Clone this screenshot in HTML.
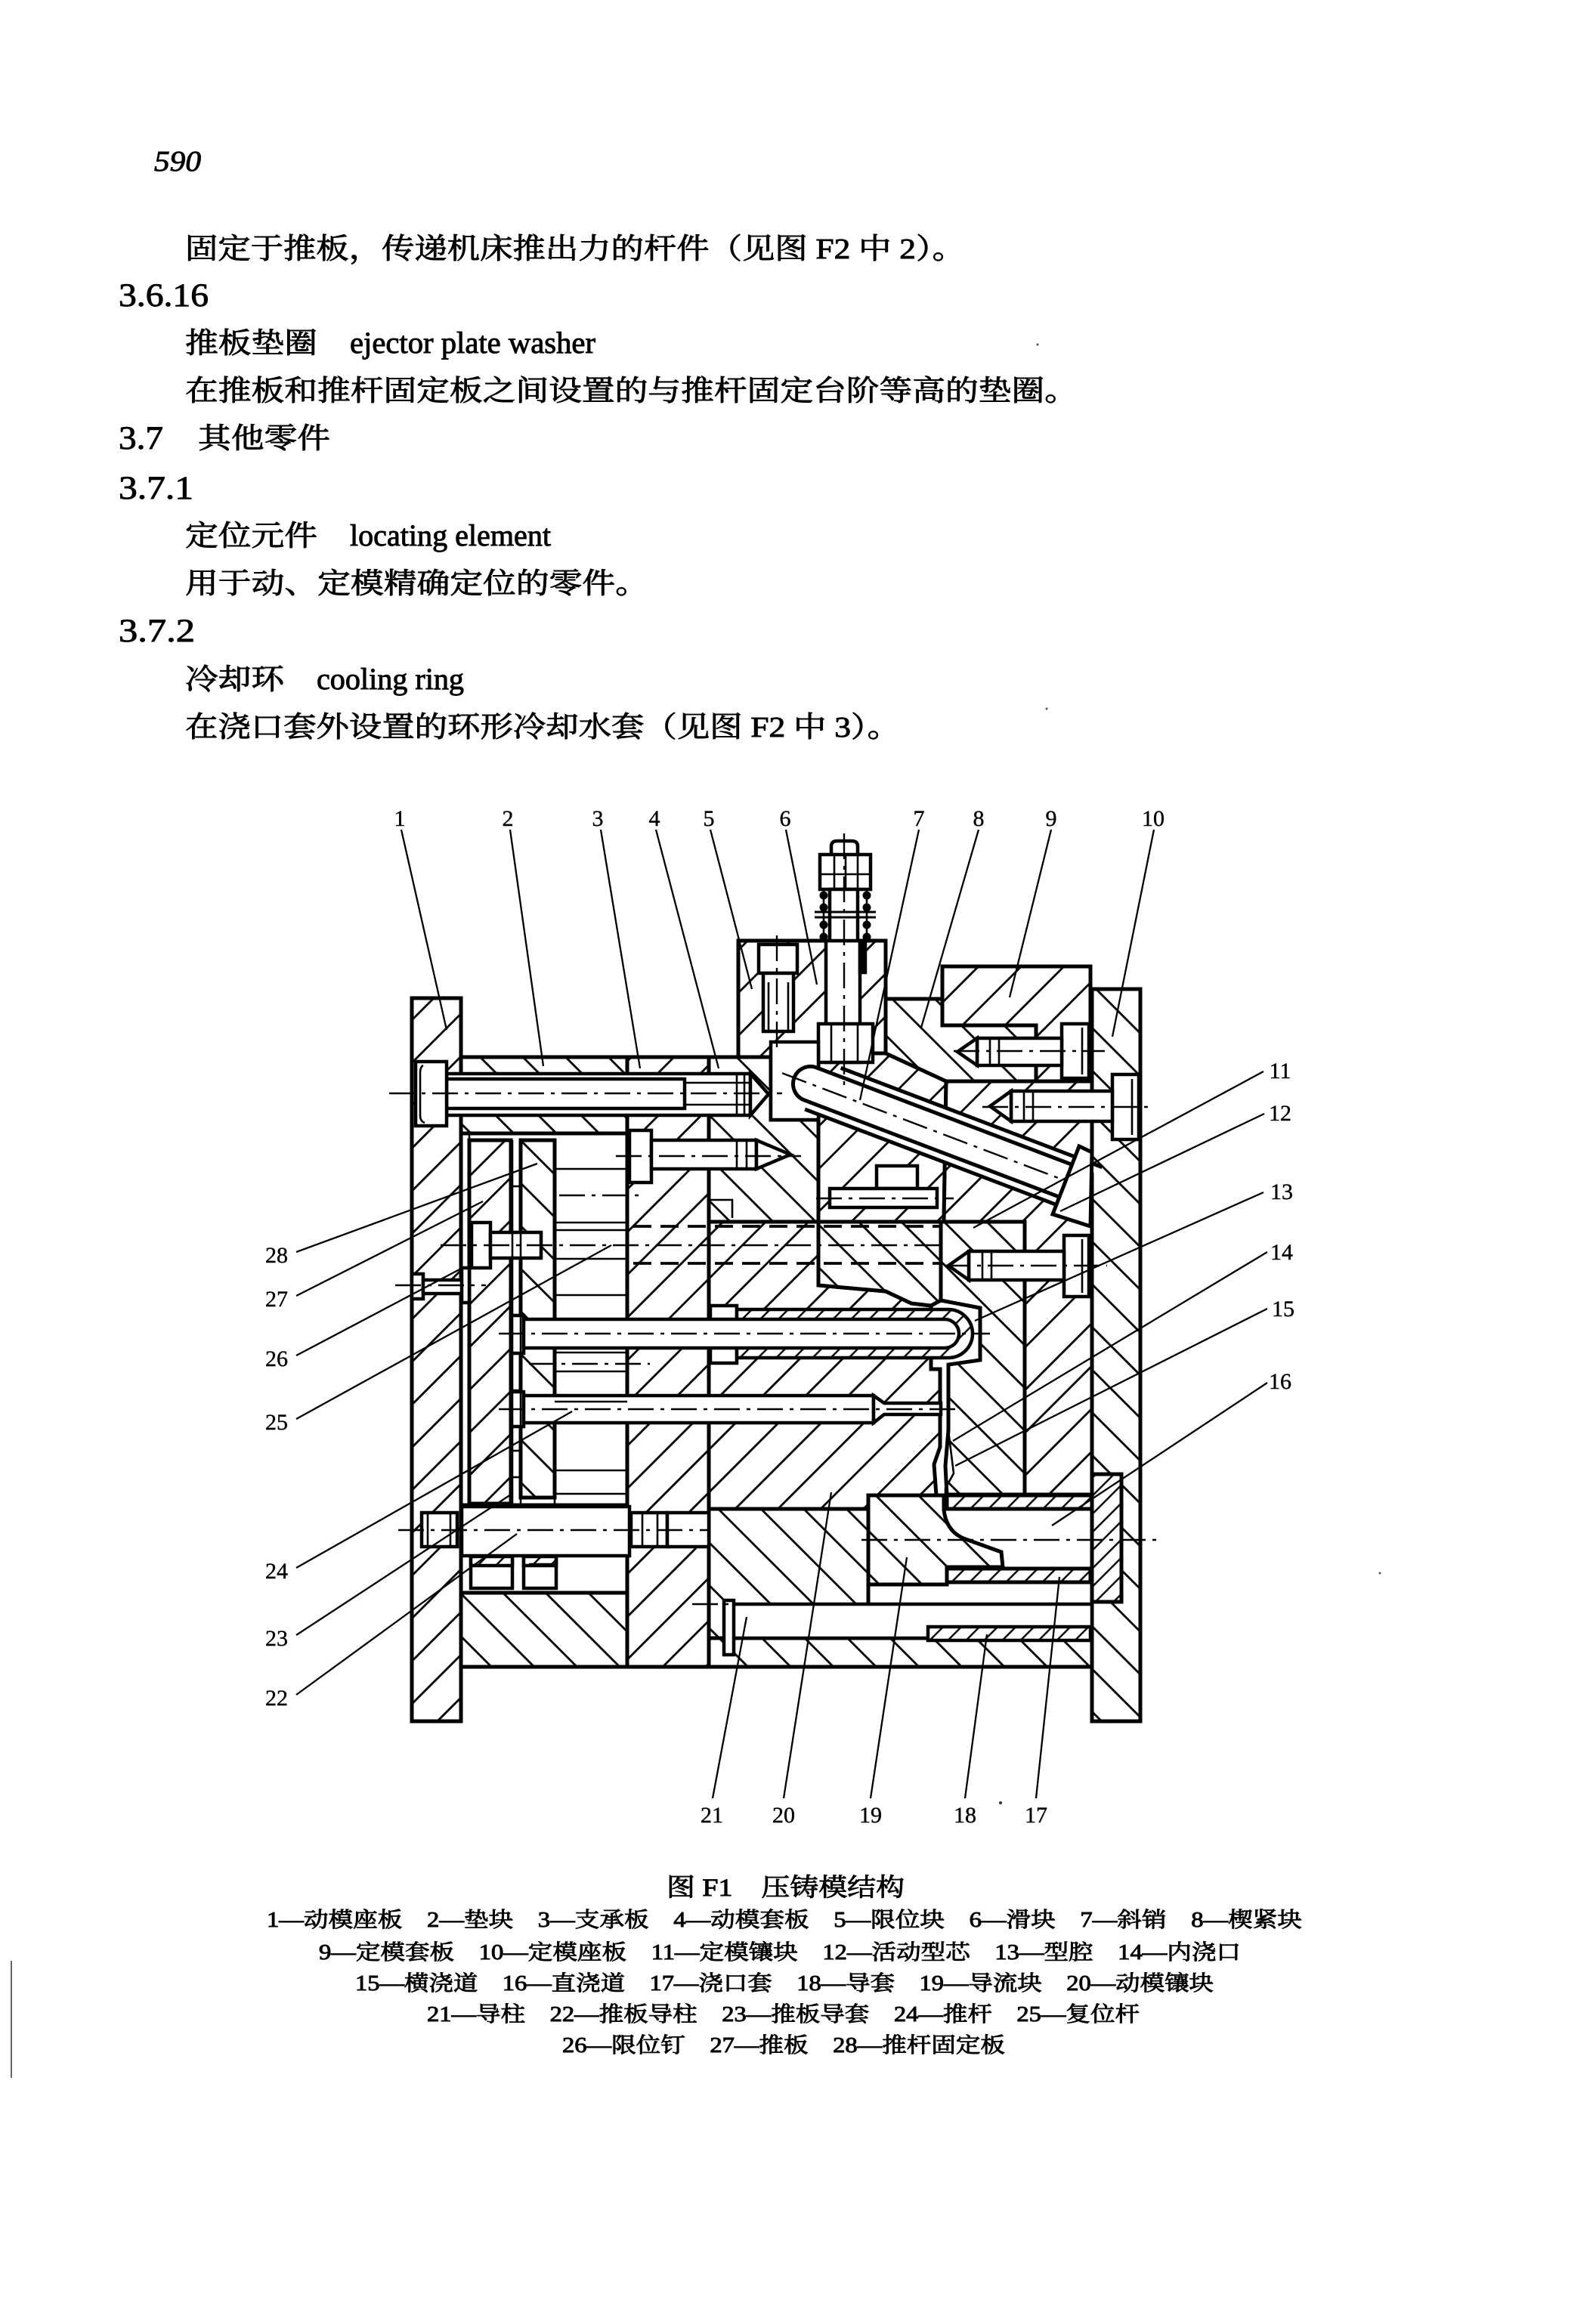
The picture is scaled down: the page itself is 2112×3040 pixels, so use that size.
<!DOCTYPE html>
<html><head><meta charset="utf-8">
<style>
html,body{margin:0;padding:0;background:#fff}
svg{display:block}
.tx{font-family:"Liberation Serif","Noto Serif CJK SC",serif;fill:#000}
.lb{font-family:"Liberation Serif",serif;font-size:30px;fill:#000;text-anchor:middle;stroke:#000;stroke-width:0.4}
.cl{stroke:#000;stroke-width:2.4;stroke-dasharray:34 9 5 9;fill:none}
.ld{stroke:#000;stroke-width:2.3;fill:none}
.th{stroke:#000;stroke-width:2.6;fill:none}
.dh{stroke:#000;stroke-width:3.8;stroke-dasharray:24 12;fill:none}
</style></head>
<body>
<svg xmlns="http://www.w3.org/2000/svg" width="2112" height="3040" viewBox="0 0 2112 3040">
<defs>
<pattern id="hA" patternUnits="userSpaceOnUse" width="40" height="40" patternTransform="rotate(45)"><rect width="40" height="40" fill="#fff"/><line x1="20" y1="-5" x2="20" y2="45" stroke="#000" stroke-width="2.8"/></pattern>
<pattern id="hB" patternUnits="userSpaceOnUse" width="40" height="40" patternTransform="rotate(-45)"><rect width="40" height="40" fill="#fff"/><line x1="20" y1="-5" x2="20" y2="45" stroke="#000" stroke-width="2.8"/></pattern>
<pattern id="hAd" patternUnits="userSpaceOnUse" width="17" height="17" patternTransform="rotate(45)"><rect width="17" height="17" fill="#fff"/><line x1="8" y1="-2" x2="8" y2="19" stroke="#000" stroke-width="2.4"/></pattern>
</defs>
<rect width="2112" height="3040" fill="#fff"/>

<!-- ============ BODY TEXT ============ -->
<g class="tx" stroke="#000" stroke-width="0.9">
<text x="204" y="226" font-size="38" font-style="italic" textLength="62" lengthAdjust="spacingAndGlyphs">590</text>
<text x="245" y="342" font-size="38" textLength="1032" lengthAdjust="spacingAndGlyphs">固定于推板，传递机床推出力的杆件（见图 F2 中 2）。</text>
<text x="157" y="405" font-size="43" textLength="119" lengthAdjust="spacingAndGlyphs">3.6.16</text>
<text x="245" y="467" font-size="38" textLength="175" lengthAdjust="spacingAndGlyphs">推板垫圈</text>
<text x="463" y="467" font-size="40" textLength="325" lengthAdjust="spacingAndGlyphs">ejector plate washer</text>
<text x="245" y="530" font-size="38" textLength="1181" lengthAdjust="spacingAndGlyphs">在推板和推杆固定板之间设置的与推杆固定台阶等高的垫圈。</text>
<text x="157" y="594" font-size="43" textLength="59" lengthAdjust="spacingAndGlyphs">3.7</text>
<text x="262" y="593" font-size="38" textLength="175" lengthAdjust="spacingAndGlyphs">其他零件</text>
<text x="157" y="660" font-size="43" textLength="99" lengthAdjust="spacingAndGlyphs">3.7.1</text>
<text x="245" y="722" font-size="38" textLength="175" lengthAdjust="spacingAndGlyphs">定位元件</text>
<text x="463" y="722" font-size="40" textLength="266" lengthAdjust="spacingAndGlyphs">locating element</text>
<text x="245" y="785" font-size="38" textLength="613" lengthAdjust="spacingAndGlyphs">用于动、定模精确定位的零件。</text>
<text x="157" y="849" font-size="43" textLength="101" lengthAdjust="spacingAndGlyphs">3.7.2</text>
<text x="245" y="912" font-size="38" textLength="131" lengthAdjust="spacingAndGlyphs">冷却环</text>
<text x="419" y="912" font-size="40" textLength="195" lengthAdjust="spacingAndGlyphs">cooling ring</text>
<text x="245" y="975" font-size="38" textLength="946" lengthAdjust="spacingAndGlyphs">在浇口套外设置的环形冷却水套（见图 F2 中 3）。</text>
</g>

<!-- small specks -->
<circle cx="1373" cy="456" r="1.5" fill="#555"/>
<circle cx="1385" cy="938" r="1.5" fill="#555"/>
<circle cx="1324" cy="2386" r="2" fill="#333"/>
<circle cx="1826" cy="2082" r="1.5" fill="#555"/>
<line x1="15" y1="2595" x2="15" y2="2750" stroke="#666" stroke-width="2"/>

<!-- ============ DIAGRAM: hatched regions ============ -->
<g stroke="#000" stroke-width="5" stroke-linejoin="miter">
<rect x="545" y="1321" width="65" height="957" fill="url(#hA)"/>
<rect x="1445" y="1309" width="64" height="969" fill="url(#hB)"/>
<rect x="610" y="1399" width="220" height="101" fill="url(#hB)"/>
<rect x="830" y="1399" width="108" height="807" fill="url(#hA)"/>
<polygon points="938,1399 1020,1399 1020,1482 1083,1482 1083,1617 938,1617" fill="url(#hB)"/>
<rect x="977" y="1245" width="195" height="154" fill="url(#hA)"/>
<polygon points="1083,1394 1172,1394 1252,1431 1249,1617 1083,1617" fill="url(#hA)"/>
<polygon points="1172,1322 1247,1322 1247,1357 1371,1357 1371,1431 1252,1431 1172,1394" fill="url(#hB)"/>
<polygon points="1247,1279 1443,1279 1443,1431 1371,1431 1371,1357 1247,1357" fill="url(#hA)"/>
<polygon points="1252,1431 1445,1431 1445,1978 1356,1978 1356,1617 1249,1617" fill="url(#hA)"/>
<polygon points="1249,1617 1356,1617 1356,1978 1253,1978 1251,1940 1255,1893 1255,1806 1297,1800 1297,1731 1245,1721 1245,1617" fill="url(#hB)"/>
<polygon points="938,1617 1083,1617 1083,1701 1116,1704 1172,1709 1206,1725 1232,1728 1232,1812 1244,1812 1244,1915 1236,1938 1239,1979 1149,1979 1149,1997 938,1997" fill="url(#hA)"/>
<polygon points="1083,1617 1245,1617 1245,1721 1232,1728 1206,1725 1172,1709 1116,1704 1083,1701" fill="url(#hB)"/>
<rect x="938" y="1997" width="211" height="171" fill="url(#hB)"/>
<rect x="938" y="2168" width="507" height="38" fill="url(#hB)"/>
<rect x="610" y="2108" width="220" height="98" fill="url(#hB)"/>
<rect x="621" y="1509" width="55" height="481" fill="url(#hA)"/>
<rect x="689" y="1509" width="45" height="473" fill="url(#hB)"/>
<path d="M1149,1979 H1249 V1998 Q1252,2026 1275,2036 L1325,2054 L1327,2074 H1253 V2097 H1149 Z" fill="url(#hB)"/>
<rect x="1253" y="1979" width="192" height="18" fill="url(#hAd)"/>
<rect x="1445" y="1951" width="39" height="169" fill="url(#hAd)"/>
<rect x="1253" y="2076" width="190" height="18" fill="url(#hAd)"/>
<line x1="610" y1="1992" x2="830" y2="1992"/>
</g>

<!-- ============ white parts / bolts ============ -->
<g stroke="#000" stroke-width="4.5" fill="#fff">
<rect x="591" y="1421" width="402" height="55"/>
<polygon points="993,1421 1017,1448 993,1476"/>
<rect x="550" y="1405" width="41" height="85"/>
<path d="M591,1428 H906 V1467 H591" fill="none"/>
<rect x="833" y="1496" width="29" height="69"/>
<rect x="862" y="1509" width="139" height="38"/>
<polygon points="1001,1509 1046,1528 1001,1547"/>
<rect x="624" y="1618" width="25" height="60"/>
<rect x="649" y="1631" width="67" height="34"/>
<rect x="545" y="1686" width="15" height="33"/>
<rect x="560" y="1694" width="52" height="18"/>
<rect x="611" y="1678" width="10" height="46"/>
<rect x="611" y="1994" width="222" height="65"/>
<rect x="558" y="2002" width="47" height="45"/>
<rect x="835" y="2002" width="48" height="45"/>
<rect x="883" y="2002" width="55" height="45"/>
<rect x="623" y="2060" width="55" height="42"/>
<rect x="693" y="2060" width="43" height="42"/>
<rect x="623" y="2060" width="55" height="12" fill="url(#hAd)"/>
<rect x="693" y="2060" width="43" height="12" fill="url(#hAd)"/>
<rect x="940" y="1728" width="35" height="76"/>
<path d="M975,1733 H1255 A32,32 0 0 1 1255,1797 H975 Z" fill="url(#hAd)"/>
<rect x="676" y="1741" width="17" height="50"/>
<path d="M693,1746 H1250 A19,19 0 0 1 1250,1784 H693 Z"/>
<rect x="676" y="1842" width="17" height="46"/>
<rect x="693" y="1847" width="463" height="36"/>
<polygon points="1156,1847 1170,1857 1245,1857 1245,1872 1170,1872 1156,1883"/>
<rect x="967" y="2123" width="478" height="45"/>
<rect x="958" y="2118" width="13" height="72"/>
<rect x="1228" y="2153" width="215" height="18" fill="url(#hAd)"/>
<rect x="1408" y="1635" width="33" height="81"/>
<rect x="1282" y="1656" width="126" height="38"/>
<polygon points="1282,1656 1255,1675 1282,1694"/>
<rect x="1405" y="1355" width="36" height="72"/>
<rect x="1293" y="1374" width="112" height="36"/>
<polygon points="1293,1374 1267,1392 1293,1410"/>
<rect x="1472" y="1422" width="35" height="86"/>
<rect x="1338" y="1444" width="134" height="40"/>
<polygon points="1338,1444 1310,1464 1338,1484"/>
<rect x="1004" y="1250" width="51" height="38"/>
<rect x="1010" y="1288" width="40" height="77"/>
<rect x="1093" y="1245" width="45" height="161"/>
<rect x="1138" y="1245" width="7" height="42" fill="#000"/>
<rect x="1083" y="1355" width="72" height="51"/>
<rect x="1020" y="1379" width="63" height="103"/>
<rect x="1160" y="1543" width="54" height="30"/>
<rect x="1098" y="1573" width="142" height="25"/>
<path d="M1100,1131 V1120 Q1100,1113 1108,1113 H1127 Q1135,1113 1135,1120 V1131"/>
<rect x="1085" y="1131" width="67" height="46"/>
<rect x="1098" y="1177" width="37" height="68"/>
</g>

<!-- detail thin lines -->
<g class="th">
<line x1="906" y1="1433" x2="993" y2="1433"/><line x1="906" y1="1462" x2="993" y2="1462"/>
<line x1="975" y1="1421" x2="975" y2="1476"/><line x1="985" y1="1421" x2="985" y2="1476"/>
<path d="M560,1410 Q556,1412 556,1420 V1476 Q556,1484 562,1486"/>
<line x1="975" y1="1509" x2="975" y2="1547"/><line x1="988" y1="1509" x2="988" y2="1547"/>
<line x1="1300" y1="1656" x2="1300" y2="1694"/><line x1="1312" y1="1656" x2="1312" y2="1694"/>
<line x1="1432" y1="1640" x2="1432" y2="1711"/>
<line x1="1310" y1="1374" x2="1310" y2="1410"/><line x1="1322" y1="1374" x2="1322" y2="1410"/>
<line x1="1432" y1="1360" x2="1432" y2="1422"/>
<line x1="1355" y1="1444" x2="1355" y2="1484"/><line x1="1367" y1="1444" x2="1367" y2="1484"/>
<line x1="1498" y1="1428" x2="1498" y2="1502"/>
<line x1="1017" y1="1300" x2="1017" y2="1365"/><line x1="1043" y1="1300" x2="1043" y2="1365"/>
<line x1="1104" y1="1131" x2="1104" y2="1177"/><line x1="1119" y1="1131" x2="1119" y2="1177"/><line x1="1135" y1="1131" x2="1135" y2="1177"/>
<line x1="1085" y1="1157" x2="1152" y2="1157"/>
<line x1="1090" y1="1177" x2="1090" y2="1245"/><line x1="1147" y1="1177" x2="1147" y2="1245"/>
<line x1="1078" y1="1207" x2="1159" y2="1207" stroke-width="3"/><line x1="1078" y1="1214" x2="1159" y2="1214" stroke-width="3"/>
<line x1="1100" y1="1355" x2="1100" y2="1406"/><line x1="1135" y1="1355" x2="1135" y2="1406"/>
<line x1="566" y1="2002" x2="566" y2="2047"/><line x1="596" y1="2002" x2="596" y2="2047"/>
<line x1="850" y1="2002" x2="850" y2="2047"/><line x1="870" y1="2002" x2="870" y2="2047"/>
<line x1="700" y1="2070" x2="736" y2="2070"/>
<line x1="734" y1="1547" x2="830" y2="1547"/>
<line x1="734" y1="1618" x2="830" y2="1618"/>
<line x1="734" y1="1628" x2="830" y2="1628"/>
<line x1="734" y1="1666" x2="830" y2="1666"/>
<line x1="734" y1="1714" x2="830" y2="1714"/>
<line x1="734" y1="1790" x2="830" y2="1790"/>
<line x1="734" y1="1815" x2="830" y2="1815"/>
<line x1="734" y1="1855" x2="830" y2="1855"/>
<line x1="734" y1="1946" x2="830" y2="1946"/>
<line x1="734" y1="1977" x2="830" y2="1977"/>
<line x1="734" y1="1946" x2="734" y2="1992"/>
<line x1="678" y1="1509" x2="678" y2="1990"/><line x1="689" y1="1509" x2="689" y2="1990"/>
<line x1="678" y1="1570" x2="689" y2="1570"/><line x1="678" y1="1840" x2="689" y2="1840"/>
<line x1="678" y1="1920" x2="689" y2="1920"/><line x1="678" y1="1955" x2="689" y2="1955"/>
<line x1="621" y1="1500" x2="621" y2="1509"/>
<path d="M938,1588 H969 V1612"/>
<path d="M1255,1893 L1262,1950 L1251,1970 V1995"/>
</g>
<g fill="#000">
<circle cx="1090" cy="1185" r="5.5"/><circle cx="1090" cy="1201" r="5.5"/><circle cx="1090" cy="1224" r="5.5"/><circle cx="1090" cy="1240" r="5.5"/>
<circle cx="1147" cy="1185" r="5.5"/><circle cx="1147" cy="1201" r="5.5"/><circle cx="1147" cy="1224" r="5.5"/><circle cx="1147" cy="1240" r="5.5"/>
</g>

<line class="dh" x1="838" y1="1623" x2="1245" y2="1623"/>
<line class="dh" x1="838" y1="1672" x2="1245" y2="1672"/>

<!-- inclined pin 7 -->
<g transform="translate(1166,1470) rotate(20.8)" stroke="#000">
<path d="M-70,-34 H292 V34 H-95 Z" fill="#fff" stroke="none"/>
<line x1="-70" y1="-34" x2="300" y2="-34" stroke-width="5"/>
<line x1="-95" y1="34" x2="272" y2="34" stroke-width="5"/>
<path d="M-100,-23 H262 V23 H-100 A23,23 0 0 1 -100,-23 Z" fill="#fff" stroke-width="5"/>
<line class="cl" x1="-140" y1="0" x2="300" y2="0"/>
</g>
<polygon points="1428,1517 1445,1525 1443,1623 1393,1607" fill="#fff" stroke="#000" stroke-width="5"/>

<!-- center lines -->
<line class="cl" x1="515" y1="1447" x2="1035" y2="1447"/>
<line class="cl" x1="1028" y1="1238" x2="1028" y2="1386"/>
<line class="cl" x1="1117" y1="1103" x2="1117" y2="1440"/>
<line class="cl" x1="1262" y1="1391" x2="1462" y2="1391"/>
<line class="cl" x1="1300" y1="1465" x2="1528" y2="1465"/>
<line class="cl" x1="815" y1="1530" x2="1060" y2="1530"/>
<line class="cl" x1="583" y1="1648" x2="1250" y2="1648"/>
<line class="cl" x1="740" y1="1582" x2="850" y2="1582"/>
<line class="cl" x1="660" y1="1765" x2="1310" y2="1765"/>
<line class="cl" x1="700" y1="1805" x2="860" y2="1805"/>
<line class="cl" x1="660" y1="1865" x2="1268" y2="1865"/>
<line class="cl" x1="1250" y1="1675" x2="1465" y2="1675"/>
<line class="cl" x1="527" y1="2025" x2="940" y2="2025"/>
<line class="cl" x1="916" y1="2123" x2="1447" y2="2123"/>
<line class="cl" x1="1140" y1="2038" x2="1530" y2="2038"/>
<line class="cl" x1="1080" y1="1586" x2="1262" y2="1586"/>
<line class="cl" x1="523" y1="1701" x2="643" y2="1701"/>

<!-- leaders -->
<g class="ld">
<line x1="531" y1="1098" x2="591" y2="1363"/>
<line x1="675" y1="1098" x2="719" y2="1411"/>
<line x1="795" y1="1098" x2="847" y2="1414"/>
<line x1="868" y1="1098" x2="951" y2="1414"/>
<line x1="940" y1="1098" x2="995" y2="1309"/>
<line x1="1040" y1="1098" x2="1081" y2="1303"/>
<line x1="1216" y1="1098" x2="1138" y2="1456"/>
<line x1="1295" y1="1098" x2="1219" y2="1360"/>
<line x1="1391" y1="1098" x2="1336" y2="1320"/>
<line x1="1527" y1="1098" x2="1472" y2="1372"/>
<line x1="392" y1="1657" x2="711" y2="1540"/>
<line x1="392" y1="1715" x2="639" y2="1590"/>
<line x1="392" y1="1794" x2="610" y2="1679"/>
<line x1="392" y1="1878" x2="809" y2="1648"/>
<line x1="392" y1="2075" x2="757" y2="1868"/>
<line x1="392" y1="2164" x2="679" y2="1976"/>
<line x1="392" y1="2243" x2="684" y2="2030"/>
<line x1="1672" y1="1418" x2="1288" y2="1625"/>
<line x1="1673" y1="1474" x2="1403" y2="1603"/>
<line x1="1672" y1="1578" x2="1290" y2="1748"/>
<line x1="1677" y1="1657" x2="1261" y2="1907"/>
<line x1="1677" y1="1732" x2="1264" y2="1940"/>
<line x1="1677" y1="1830" x2="1392" y2="2019"/>
<line x1="943" y1="2380" x2="988" y2="2140"/>
<line x1="1037" y1="2380" x2="1100" y2="1975"/>
<line x1="1152" y1="2380" x2="1200" y2="2061"/>
<line x1="1277" y1="2380" x2="1306" y2="2163"/>
<line x1="1371" y1="2380" x2="1402" y2="2087"/>
</g>

<!-- labels -->
<g class="lb">
<text x="529" y="1093">1</text>
<text x="672" y="1093">2</text>
<text x="791" y="1093">3</text>
<text x="866" y="1093">4</text>
<text x="938" y="1093">5</text>
<text x="1039" y="1093">6</text>
<text x="1216" y="1093">7</text>
<text x="1295" y="1093">8</text>
<text x="1391" y="1093">9</text>
<text x="1526" y="1093">10</text>
<text x="366" y="1671">28</text>
<text x="366" y="1729">27</text>
<text x="366" y="1808">26</text>
<text x="366" y="1892">25</text>
<text x="366" y="2089">24</text>
<text x="366" y="2178">23</text>
<text x="366" y="2257">22</text>
<text x="1694" y="1427">11</text>
<text x="1694" y="1483">12</text>
<text x="1696" y="1587">13</text>
<text x="1696" y="1667">14</text>
<text x="1698" y="1742">15</text>
<text x="1694" y="1838">16</text>
<text x="942" y="2412">21</text>
<text x="1037" y="2412">20</text>
<text x="1152" y="2412">19</text>
<text x="1277" y="2412">18</text>
<text x="1371" y="2412">17</text>
</g>

<!-- ============ CAPTION ============ -->
<g class="tx" stroke="#000" stroke-width="0.9">
<text x="882" y="2509" font-size="33" textLength="315" lengthAdjust="spacingAndGlyphs">图 F1　压铸模结构</text>
<text x="353" y="2550" font-size="28" textLength="1370" lengthAdjust="spacingAndGlyphs">1—动模座板　2—垫块　3—支承板　4—动模套板　5—限位块　6—滑块　7—斜销　8—楔紧块</text>
<text x="422" y="2593" font-size="28" textLength="1220" lengthAdjust="spacingAndGlyphs">9—定模套板　10—定模座板　11—定模镶块　12—活动型芯　13—型腔　14—内浇口</text>
<text x="470" y="2634" font-size="28" textLength="1136" lengthAdjust="spacingAndGlyphs">15—横浇道　16—直浇道　17—浇口套　18—导套　19—导流块　20—动模镶块</text>
<text x="565" y="2675" font-size="28" textLength="943" lengthAdjust="spacingAndGlyphs">21—导柱　22—推板导柱　23—推板导套　24—推杆　25—复位杆</text>
<text x="744" y="2716" font-size="28" textLength="586" lengthAdjust="spacingAndGlyphs">26—限位钉　27—推板　28—推杆固定板</text>
</g>
</svg>
</body></html>
